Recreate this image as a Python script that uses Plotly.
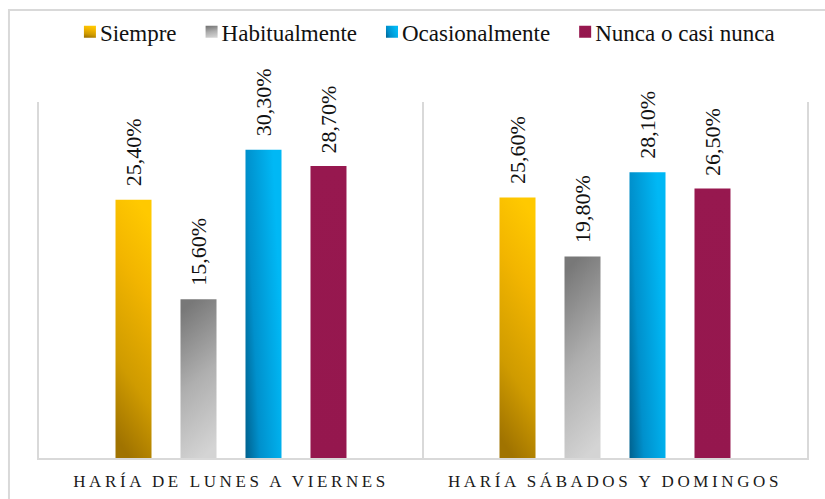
import plotly.graph_objects as go

# Survey answers, grouped by period
categories = ["HARÍA DE LUNES A VIERNES", "HARÍA SÁBADOS Y DOMINGOS"]
series_names = ["Siempre", "Habitualmente", "Ocasionalmente", "Nunca o casi nunca"]
siempre = [25.4, 25.6]
habitualmente = [15.6, 19.8]
ocasionalmente = [30.3, 28.1]
nunca = [28.7, 26.5]
series_values = [siempre, habitualmente, ocasionalmente, nunca]

base_colors = ["#E8AA00", "#A6A6A6", "#0098D8", "#96174F"]

FONT = "'Times New Roman', 'Liberation Serif', serif"
FRAME = "#D9D9D9"
BARGAP = 0.323
BARGROUPGAP = 0.446

x_pos = list(range(len(categories)))

fig = go.Figure()
for name, vals, col in zip(series_names, series_values, base_colors):
    fig.add_trace(go.Bar(
        x=x_pos, y=vals, name=name,
        marker=dict(color=col, line=dict(width=0)),
        hoverinfo="skip",
    ))

# value labels, rotated, above each bar
slot = (1 - BARGAP) / len(series_values)
for i, vals in enumerate(series_values):
    offset = (i - (len(series_values) - 1) / 2) * slot
    for xi, v in zip(x_pos, vals):
        fig.add_annotation(
            x=xi + offset, y=v,
            text=f"{v:.2f}%".replace(".", ","),
            textangle=-90, showarrow=False,
            xanchor="center", yanchor="bottom", yshift=11,
            font=dict(family=FONT, size=22, color="#111111"),
        )

# separator between the two groups
fig.add_shape(type="line", xref="x", yref="paper", x0=0.5, x1=0.5, y0=0, y1=1,
              line=dict(color=FRAME, width=2), layer="below")
# outer chart border
fig.add_shape(type="rect", xref="paper", yref="paper",
              x0=-0.0391, x1=1.04, y0=-0.14, y1=1.2584,
              line=dict(color=FRAME, width=2), fillcolor="rgba(0,0,0,0)", layer="below")

fig.update_layout(
    width=825, height=499,
    margin=dict(l=39, r=18, t=102, b=41, autoexpand=False),
    paper_bgcolor="white", plot_bgcolor="white",
    barmode="group", bargap=BARGAP, bargroupgap=BARGROUPGAP,
    font=dict(family=FONT, color="#111111"),
    showlegend=True,
    legend=dict(
        orientation="h", x=0.496, xanchor="center", y=1.197, yanchor="middle",
        font=dict(family=FONT, size=23, color="#111111"),
        bgcolor="rgba(0,0,0,0)",
    ),
    xaxis=dict(
        range=[-0.5, 1.5], tickvals=x_pos, ticktext=categories,
        showgrid=False, zeroline=False, ticks="",
        showline=True, linecolor=FRAME, linewidth=2,
        tickfont=dict(family=FONT, size=17, color="#1a1a1a"),
        ticklabelstandoff=7, automargin=False,
        fixedrange=True,
    ),
    yaxis=dict(
        range=[0, 35], showticklabels=False, showgrid=False, zeroline=False,
        ticks="", showline=True, mirror=True, linecolor=FRAME, linewidth=2,
        automargin=False, fixedrange=True,
    ),
)

post_script = """
var gd = document.querySelector('.js-plotly-plot');
var NS = 'http://www.w3.org/2000/svg';
var svg = gd.querySelector('svg.main-svg');
var defs = document.createElementNS(NS, 'defs');
var specs = [
  {x1:0.6, y1:0, x2:0.4, y2:1, stops:[[0,'#FFC900'],[0.3,'#F2B500'],[0.7,'#CF9B00'],[1,'#A07300']]},
  {x1:0.4, y1:0, x2:0.6, y2:1, stops:[[0,'#787878'],[0.5,'#AFAFAF'],[1,'#D4D4D4']]},
  {x1:0, y1:1, x2:1, y2:0.6, stops:[[0,'#00618E'],[0.35,'#0090CC'],[1,'#00B8F5']]},
  {x1:0, y1:0, x2:0, y2:1, stops:[[0,'#97184F'],[1,'#95174E']]}
];
specs.forEach(function(s, i){
  var g = document.createElementNS(NS, 'linearGradient');
  g.setAttribute('id', 'barfill' + i);
  g.setAttribute('x1', s.x1); g.setAttribute('y1', s.y1);
  g.setAttribute('x2', s.x2); g.setAttribute('y2', s.y2);
  s.stops.forEach(function(st){
    var e = document.createElementNS(NS, 'stop');
    e.setAttribute('offset', st[0]);
    e.setAttribute('stop-color', st[1]);
    g.appendChild(e);
  });
  defs.appendChild(g);
});
svg.insertBefore(defs, svg.firstChild);
gd.querySelectorAll('.barlayer .trace').forEach(function(tr, i){
  tr.querySelectorAll('path').forEach(function(p){ p.style.fill = 'url(#barfill' + i + ')'; });
});
gd.querySelectorAll('.legend .traces').forEach(function(tr, i){
  var pts = tr.querySelector('.legendpoints');
  if (!pts) return;
  pts.querySelectorAll('path').forEach(function(p){ p.style.fill = 'url(#barfill' + i + ')'; });
  var t = pts.getAttribute('transform') || '';
  pts.setAttribute('transform', t + ' translate(10,0)');
});
gd.querySelectorAll('.xtick text').forEach(function(t){ t.style.letterSpacing = '3.6px'; });
"""

fig.write_html("out.html", post_script=post_script)
